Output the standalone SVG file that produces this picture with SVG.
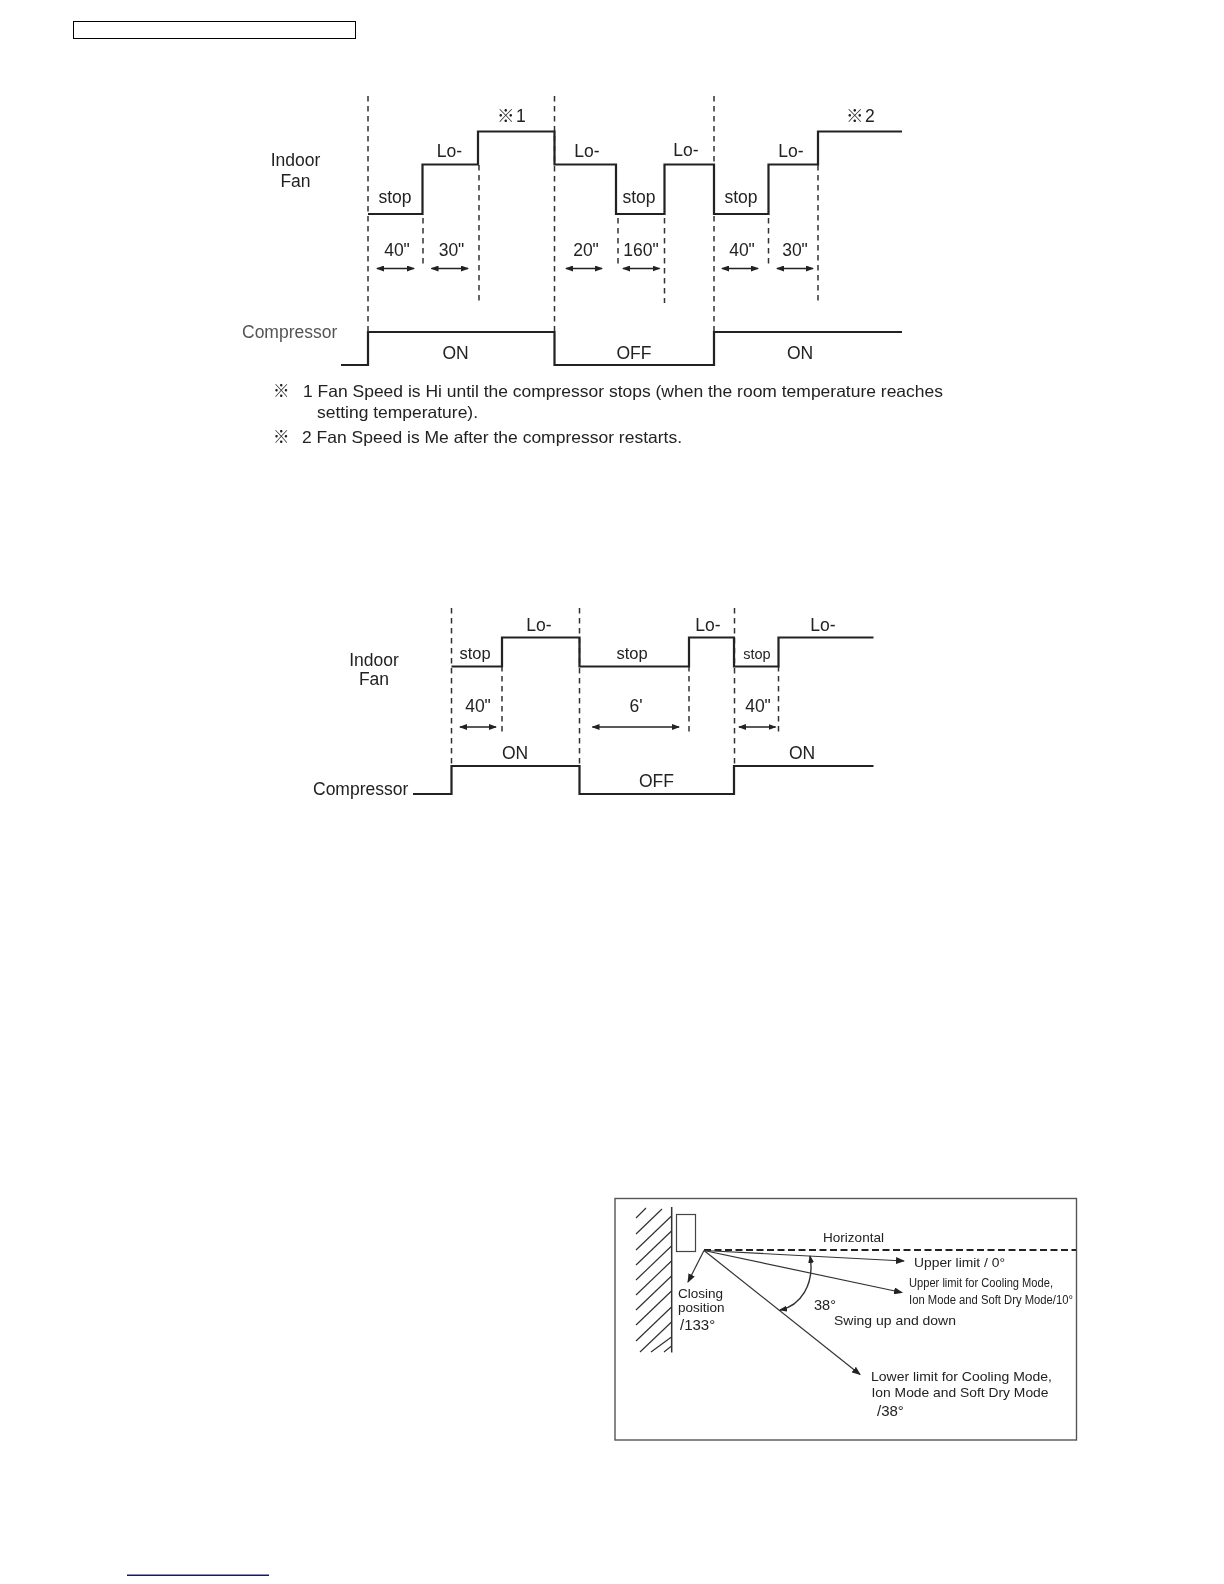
<svg xmlns="http://www.w3.org/2000/svg" width="1224" height="1584" viewBox="0 0 1224 1584">
<style>
text{font-family:"Liberation Sans",Arial,"Noto Sans CJK JP",sans-serif;fill:#222}
.t18{font-size:17.5px}.t16{font-size:16.5px}.m{text-anchor:middle}
.w{fill:none;stroke:#222;stroke-width:2.2}
.d{fill:none;stroke:#333;stroke-width:1.5;stroke-dasharray:5.5 4.5}
.a{fill:none;stroke:#222;stroke-width:1.3;marker-start:url(#as);marker-end:url(#ae)}
.e{fill:none;stroke:#333;stroke-width:1.2;marker-end:url(#ae2)}
.sm{font-size:13.5px}
</style>
<defs>
<marker id="ae" markerWidth="8" markerHeight="6" refX="7" refY="3" orient="auto" markerUnits="userSpaceOnUse"><path d="M0 0L8 3L0 6Z" fill="#222"/></marker>
<marker id="as" markerWidth="8" markerHeight="6" refX="1" refY="3" orient="auto" markerUnits="userSpaceOnUse"><path d="M8 0L0 3L8 6Z" fill="#222"/></marker>
<marker id="ae2" markerWidth="9" markerHeight="7" refX="8" refY="3.5" orient="auto" markerUnits="userSpaceOnUse"><path d="M0 0L9 3.5L0 7Z" fill="#222"/></marker>
<filter id="b" x="-5%" y="-5%" width="110%" height="110%"><feGaussianBlur stdDeviation="0.3"/></filter>
</defs>
<g id="header"><rect x="73.500" y="21.500" width="282" height="17" fill="none" stroke="#000" stroke-width="1"/></g>
<g id="footer"><rect x="127" y="1574.500" width="142" height="1.500" fill="#14147d"/></g>

<g id="chart-1" filter="url(#b)">
<g id="c1-connectors">
<path class="d" d="M368 96V332M554.500 96V332M714 96V332M423 218V268M479 165V303M618 218V268M664.500 218V303M768.500 218V268M818 165V303"/>
<path class="w" d="M368 214H422.500V164.500H478V131.500H554.500V164.500H616V214H664.500V164.500H714V214H768.500V164.500H818V131.500H902"/>
<path class="w" d="M341 365H368V332H554.500V365H714V332H902"/>
<line class="a" x1="377" y1="268.500" x2="414" y2="268.500"/>
<line class="a" x1="431.500" y1="268.500" x2="468" y2="268.500"/>
<line class="a" x1="566" y1="268.500" x2="602" y2="268.500"/>
<line class="a" x1="623" y1="268.500" x2="659.500" y2="268.500"/>
<line class="a" x1="722" y1="268.500" x2="758" y2="268.500"/>
<line class="a" x1="777" y1="268.500" x2="813" y2="268.500"/>
</g>
<g id="c1-labels">
<text class="t18 m" x="295.500" y="166">Indoor</text>
<text class="t18 m" x="295.500" y="187">Fan</text>
<text class="t18" x="242" y="338" style="fill:#555">Compressor</text>
<text class="t18 m" x="395" y="203">stop</text>
<text class="t18 m" x="639" y="203">stop</text>
<text class="t18 m" x="741" y="203">stop</text>
<text class="t18 m" x="449.500" y="157">Lo-</text>
<text class="t18 m" x="587" y="157">Lo-</text>
<text class="t18 m" x="686" y="156">Lo-</text>
<text class="t18 m" x="791" y="157">Lo-</text>
<text class="t18" x="497" y="122">※</text><text class="t18" x="516" y="122">1</text>
<text class="t18" x="846" y="122">※</text><text class="t18" x="865" y="122">2</text>
<text class="t18 m" x="397" y="256">40"</text>
<text class="t18 m" x="451.500" y="256">30"</text>
<text class="t18 m" x="586" y="256">20"</text>
<text class="t18 m" x="641" y="256">160"</text>
<text class="t18 m" x="742" y="256">40"</text>
<text class="t18 m" x="795" y="256">30"</text>
<text class="t18 m" x="455.500" y="359">ON</text>
<text class="t18 m" x="634" y="359">OFF</text>
<text class="t18 m" x="800" y="359">ON</text>
<text class="t16" x="273" y="397">※</text>
<text class="t16" x="303" y="397" textLength="640" lengthAdjust="spacingAndGlyphs">1 Fan Speed is Hi until the compressor stops (when the room temperature reaches</text>
<text class="t16" x="317" y="418" textLength="161" lengthAdjust="spacingAndGlyphs">setting temperature).</text>
<text class="t16" x="273" y="443">※</text>
<text class="t16" x="302" y="443" textLength="380" lengthAdjust="spacingAndGlyphs">2 Fan Speed is Me after the compressor restarts.</text>
</g>
</g>

<g id="chart-2" filter="url(#b)">
<g id="c2-connectors">
<path class="d" d="M451.500 608V766M579.500 608V766M734.500 608V766M502 666V732M689 666V732M778.500 666V732"/>
<path class="w" d="M451.500 666.500H502V637.500H579.500V666.500H689V637.500H734V666.500H778.500V637.500H873.500"/>
<path class="w" d="M413 794H451.500V766H579.500V794H734V766H873.500"/>
<line class="a" x1="460" y1="727" x2="496" y2="727"/>
<line class="a" x1="592.500" y1="727" x2="679" y2="727"/>
<line class="a" x1="739" y1="727" x2="775.500" y2="727"/>
</g>
<g id="c2-labels">
<text class="t18 m" x="374" y="666">Indoor</text>
<text class="t18 m" x="374" y="685">Fan</text>
<text class="t18" x="313" y="795">Compressor</text>
<text class="t16 m" x="475" y="659">stop</text>
<text class="t16 m" x="632" y="659">stop</text>
<text class="m" x="757" y="659" style="font-size:14.5px">stop</text>
<text class="t18 m" x="539" y="631">Lo-</text>
<text class="t18 m" x="708" y="631">Lo-</text>
<text class="t18 m" x="823" y="631">Lo-</text>
<text class="t18 m" x="478" y="712">40"</text>
<text class="t18 m" x="636" y="712">6'</text>
<text class="t18 m" x="758" y="712">40"</text>
<text class="t18 m" x="515" y="759">ON</text>
<text class="t18 m" x="656.500" y="787">OFF</text>
<text class="t18 m" x="802" y="759">ON</text>
</g>
</g>

<g id="chart-3" filter="url(#b)">
<rect x="615" y="1198.500" width="461.500" height="241.500" fill="none" stroke="#555" stroke-width="1.4"/>
<g id="wall">
<path d="M671.700 1207V1352.500" fill="none" stroke="#333" stroke-width="1.5"/>
<path fill="none" stroke="#333" stroke-width="1.2" d="M636 1218L646 1208M636 1234L662 1209M636 1250L671.500 1216M636 1265L671.500 1231M636 1280L671.500 1246M636 1295L671.500 1261M636 1310L671.500 1276M636 1325L671.500 1291M636 1341L671.500 1307M640 1352L671.500 1322M651 1352L671.500 1337M664 1352L671.500 1346"/>
</g>
<rect id="louver" x="676.500" y="1214.500" width="19" height="37" fill="none" stroke="#444" stroke-width="1.2"/>
<g id="c3-connectors">
<line x1="704" y1="1250" x2="1076" y2="1250" stroke="#222" stroke-width="1.8" stroke-dasharray="7 3.500"/>
<line class="e" x1="704" y1="1250.500" x2="904" y2="1261"/>
<line class="e" x1="704" y1="1250.500" x2="902" y2="1292.500"/>
<line class="e" x1="704" y1="1250.500" x2="860" y2="1374.500"/>
<line class="e" x1="704" y1="1250.500" x2="688" y2="1282"/>
<path d="M810 1256C815 1285 800 1306 780 1310" fill="none" stroke="#333" stroke-width="1.4" marker-start="url(#as)" marker-end="url(#ae)"/>
</g>
<g id="c3-labels">
<text class="sm" x="823" y="1242" textLength="61" lengthAdjust="spacingAndGlyphs">Horizontal</text>
<text class="sm" x="914" y="1266.500" textLength="91" lengthAdjust="spacingAndGlyphs">Upper limit / 0°</text>
<text x="909" y="1287" style="font-size:12.500px" textLength="144" lengthAdjust="spacingAndGlyphs">Upper limit for Cooling Mode,</text>
<text x="909" y="1304" style="font-size:12.500px" textLength="164" lengthAdjust="spacingAndGlyphs">Ion Mode and Soft Dry Mode/10°</text>
<text x="814" y="1310" style="font-size:14.500px">38°</text>
<text class="sm" x="834" y="1325" textLength="122" lengthAdjust="spacingAndGlyphs">Swing up and down</text>
<text class="sm" x="871" y="1381" textLength="181" lengthAdjust="spacingAndGlyphs">Lower limit for Cooling Mode,</text>
<text class="sm" x="871.500" y="1397" textLength="177" lengthAdjust="spacingAndGlyphs">Ion Mode and Soft Dry Mode</text>
<text x="877" y="1416" style="font-size:15px">/38°</text>
<text class="sm" x="678" y="1298">Closing</text>
<text class="sm" x="678" y="1312">position</text>
<text x="680" y="1330" style="font-size:15px">/133°</text>
</g>
</g>
</svg>
